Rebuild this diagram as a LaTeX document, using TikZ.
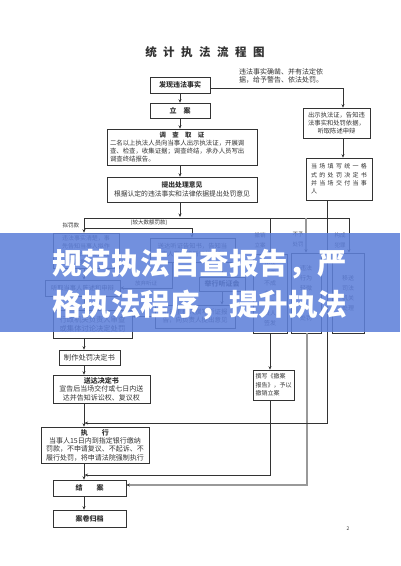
\documentclass[tikz,border=0pt]{standalone}
\usepackage{fontspec}
\setmainfont{Noto Sans CJK SC}
\usetikzlibrary{arrows.meta}
\definecolor{ink}{gray}{0.2}
\definecolor{bannerblue}{RGB}{94,128,218}
\tikzset{
  bx/.style={draw=ink, line width=0.6pt, fill=white, inner sep=0.5pt, align=center, text=ink, font=\fontsize{6.3}{8}\selectfont},
  ln/.style={draw=ink, line width=0.6pt},
  ar/.style={ln, -{Stealth[length=3.5pt,width=3pt]}},
  gln/.style={draw=black!40, line width=1.2pt},
  gar/.style={gln, -{Stealth[length=3.5pt,width=3pt,color=ink]}},
  lbl/.style={inner sep=0, text=ink, font=\fontsize{5.5}{10}\selectfont, align=center},
  bigt/.style={anchor=west, inner sep=0, text=white, font=\fontsize{29.5}{30}\selectfont\bfseries},
}
\begin{document}
\begin{tikzpicture}[x=1pt,y=-1pt]
\useasboundingbox (0,0) rectangle (400,566);
\fill[white] (0,0) rectangle (400,566);

% title
\node[inner sep=0, text=ink, font=\fontsize{11.5}{12}\selectfont\bfseries] (title) at (205,52)
  {统\hspace{6.5pt}计\hspace{6.5pt}执\hspace{6.5pt}法\hspace{6.5pt}流\hspace{6.5pt}程\hspace{6.5pt}图};

% main column
\node[bx, minimum width=60pt, minimum height=16pt, font=\fontsize{7}{8}\selectfont\bfseries] (find) at (180,85) {发现违法事实};
\node[bx, minimum width=60pt, minimum height=15pt, font=\fontsize{7}{8}\selectfont\bfseries] (lian) at (180,110.5) {立\quad 案};
\node[bx, minimum width=150pt, minimum height=36pt, text width=144pt, align=left, font=\fontsize{6.4}{8}\selectfont] (diaocha) at (182,147)
  {\makebox[144pt]{\bfseries 调\quad 查\quad 取\quad 证}\\二名以上执法人员向当事人出示执法证，开展调\\查、检查，收集证据；调查终结，承办人员写出\\调查终结报告。};
\node[bx, minimum width=150pt, minimum height=25pt, font=\fontsize{6.8}{8.5}\selectfont] (tichu) at (182,189.5)
  {{\bfseries 提出处理意见}\\根据认定的违法事实和法律依据提出处罚意见};

% note top right
\node[lbl, anchor=north west, align=left, font=\fontsize{7}{8}\selectfont] (note) at (239,68)
  {违法事实确凿、并有法定依\\据，给予警告、依法处罚。};

% simple procedure column
\node[bx, minimum width=67pt, minimum height=30pt] (r1) at (336.5,123)
  {出示执法证，告知违\\法事实和处罚依据，\\听取陈述申辩};
\node[bx, minimum width=66pt, minimum height=42pt, align=left, font=\fontsize{6}{8.3}\selectfont\addfontfeature{LetterSpace=38}] (r2) at (339,179)
  {当场填写统一格\\式的处罚决定书\\并当场交付当事\\人};

% branch boxes
\node[bx, minimum width=66pt, minimum height=35pt, align=left, font=\fontsize{6}{8}\selectfont] (A) at (86,250.5)
  {违法事实清楚，事\\先告知当事人拟作\\出处罚的事实、理\\由及依据};
\node[bx, minimum width=75pt, minimum height=16pt] (A2) at (82.5,288) {听取当事人陈述和申辩};
\node[bx, minimum width=79pt, minimum height=28pt, font=\fontsize{7.3}{9}\selectfont] (A3) at (92.5,324)
  {行政机关负责人审查\\或集体讨论决定处罚};
\node[bx, minimum width=85pt, minimum height=24pt] (B) at (192.5,250)
  {送达听证告知书，告知当\\事人有要求听证的权利};
\node[bx, minimum width=46pt, minimum height=14pt, font=\fontsize{7}{8}\selectfont\bfseries] (tz) at (222,284) {举行听证会};
\node[bx, minimum width=80pt, minimum height=23pt, font=\fontsize{6.5}{8}\selectfont] (bg) at (195,316.5)
  {听证主持人撰写听证报\\告，向负责人提出意见};
\node[bx, minimum width=34pt, minimum height=79pt, font=\fontsize{6}{10}\selectfont] (C) at (270,293.5)
  {违法\\事实\\不成\\立的\\报负\\责人\\签发};
\node[bx, minimum width=30pt, minimum height=80pt, font=\fontsize{6}{10}\selectfont] (D) at (306,293)
  {违法\\行为\\轻微\\依法\\不予\\处罚};
\node[bx, minimum width=32pt, minimum height=80pt, font=\fontsize{6}{10}\selectfont] (E) at (348,293)
  {移送\\司法\\机关\\处理};
\node[bx, minimum width=41pt, minimum height=30pt, align=left, font=\fontsize{6}{8.5}\selectfont] (chexiao) at (273.5,385)
  {撰写《撤案\\报告》，予以\\撤销立案};

% lower main column
\node[bx, minimum width=61pt, minimum height=15pt, font=\fontsize{7.3}{8}\selectfont] (zhizuo) at (89.5,357.5) {制作处罚决定书};
\node[bx, minimum width=97pt, minimum height=28pt, font=\fontsize{7}{8.5}\selectfont] (songda) at (101.5,389)
  {{\bfseries 送达决定书}\\宣告后当场交付或七日内送\\达并告知诉讼权、复议权};
\node[bx, minimum width=108pt, minimum height=36pt, font=\fontsize{7}{8.3}\selectfont] (zhixing) at (95,445)
  {{\bfseries 执\hspace{2em}行}\\当事人15日内到指定银行缴纳\\罚款，不申请复议、不起诉、不\\履行处罚，将申请法院强制执行};
\node[bx, minimum width=73pt, minimum height=16pt, font=\fontsize{7}{8}\selectfont\bfseries] (jiean) at (89.5,488) {结\hspace{2em}案};
\node[bx, minimum width=73pt, minimum height=17pt, font=\fontsize{7}{8}\selectfont\bfseries] (guidang) at (89.5,518.5) {案卷归档};

% labels
\node[lbl] (l1) at (71,225) {拟罚款};
\node[lbl] (l2) at (149,223) {(较大数额罚款)};
\node[lbl] (l3) at (260,240) {撤销\\立案};
\node[lbl] (l4) at (298,240) {不予\\处罚};
\node[lbl] (l5) at (340,240) {构成\\犯罪};
\node[lbl] (l6) at (146,283) {放弃听证};
\node[lbl, font=\fontsize{5}{6}\selectfont] (pg) at (348,529) {2};

% coordinates
\coordinate (k1) at (343,88);
\coordinate (c2) at (180,0);
\coordinate (j) at (180,218);
\coordinate (hl) at (84,218);
\coordinate (hr) at (349,218);
\coordinate (h2a) at (84,228);
\coordinate (h2b) at (192,228);
\coordinate (bx1) at (222,0);
\coordinate (fq) at (172,288);
\coordinate (cx) at (270,0);
\coordinate (cb) at (270,475);
\coordinate (db) at (307,485);
\coordinate (rb) at (327,423);

% connectors
\draw[ar] ([yshift=-3pt]find.east) -- (k1) -- (r1.north -| k1);
\draw[ar] (r1.south -| k1) -- (r2.north -| k1);
\draw[ar] (find.south) -- (lian.north);
\draw[ar] (lian.south) -- (diaocha.north -| c2);
\draw[ar] (diaocha.south -| c2) -- (tichu.north -| c2);
\draw[ar] (tichu.south -| c2) -- ([yshift=1pt]j);
\draw[ln] (hl) -- (hr);
\draw[ar] (hl) -- (A.north -| hl);
\draw[ar] (h2a) -- (h2b) -- (B.north -| h2b);
\draw[ar] (C.north |- hl) -- (C.north);
\draw[gar] (D.north |- hl) -- (D.north);
\draw[ar] (hr) -- (E.north -| hr);

\draw[ar] (A.south -| hl) -- (A2.north -| hl);
\draw[ar] (A2.south -| hl) -- (A3.north -| hl);
\draw[ar] (A3.south -| hl) -- (zhizuo.north -| hl);
\draw[ar] (zhizuo.south -| hl) -- (songda.north -| hl);
\draw[ar] (songda.south -| hl) -- (zhixing.north -| hl);
\draw[ar] (zhixing.south -| hl) -- (jiean.north -| hl);
\draw[ar] (jiean.south -| hl) -- (guidang.north -| hl);

\draw[ar] (B.south -| bx1) -- (tz.north -| bx1);
\draw[ar] (tz.south -| bx1) -- (bg.north -| bx1);
\draw[ar] (bg.west) -- (A3.east |- bg.west);
\draw[ar] (B.south -| fq) -- (fq) -- (A2.east |- fq);

\draw[ar] (C.south -| cx) -- (chexiao.north -| cx);
\draw[ar] (chexiao.south -| cx) -- (cb) -- ([xshift=0.6pt]cb -| hl);
\draw[gar] (D.south -| db) -- (db) -- ([yshift=3pt]jiean.east);
\draw[ar] (r2.south -| rb) -- (rb) -- ([xshift=0.6pt]rb -| hl);

% banner
\fill[bannerblue, opacity=0.87] (0,233) rectangle (400,332);
\node[bigt] (t1) at (52,264) {规范执法自查报告，严};
\node[bigt] (t2) at (52,305) {格执法程序，提升执法};
\end{tikzpicture}
\end{document}
